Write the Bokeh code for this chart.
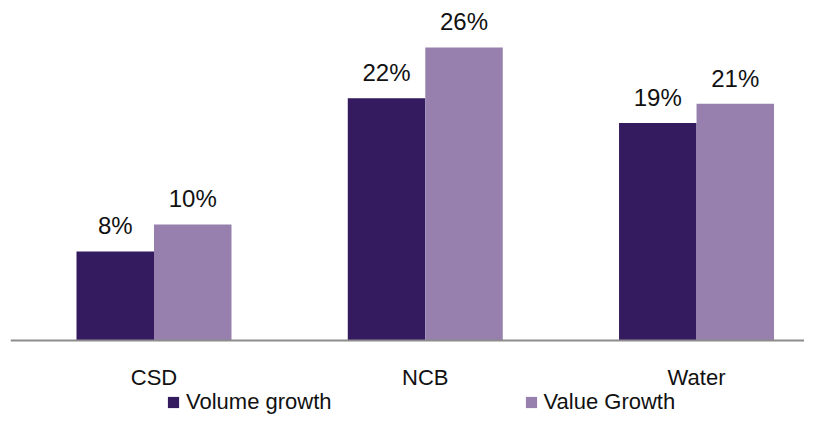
from bokeh.plotting import figure
from bokeh.models import (Range1d, ColumnDataSource, FixedTicker, LabelSet,
                          Legend, LegendItem)
from bokeh.core.properties import value
from bokeh.transform import dodge
from bokeh.embed import file_html
from bokeh.resources import INLINE

# ---- data ----
categories = ["CSD", "NCB", "Water"]
volume_growth = [7.9, 21.5, 19.3]
value_growth = [10.3, 26.0, 21.0]
volume_labels = ["8%", "22%", "19%"]
value_labels = ["10%", "26%", "21%"]
series_names = ["Volume growth", "Value Growth"]

VOL_COLOR = "#341B5F"
VAL_COLOR = "#9880AE"
FONT = "Liberation Sans"

idx = list(range(len(categories)))
src = ColumnDataSource(dict(
    x=idx, vol=volume_growth, val=value_growth,
    vol_lab=volume_labels, val_lab=value_labels,
))

p = figure(frame_width=794, frame_height=415,
           min_border_left=10, min_border_right=0, min_border_top=0,
           min_border_bottom=0,
           x_range=Range1d(-0.529, 2.398), y_range=Range1d(-6.655, 30.17),
           output_backend="svg", toolbar_location=None,
           y_axis_location=None)
p.outline_line_color = None
p.xgrid.visible = False
p.ygrid.visible = False
p.background_fill_color = "white"
p.border_fill_color = "white"

bw = 0.2857
off = bw / 2
r1 = p.vbar(x=dodge("x", -off, range=p.x_range), top="vol", width=bw,
            bottom=0, source=src, fill_color=VOL_COLOR, line_color=None)
r2 = p.vbar(x=dodge("x", off, range=p.x_range), top="val", width=bw,
            bottom=0, source=src, fill_color=VAL_COLOR, line_color=None)

for col, lab, sign in (("vol", "vol_lab", -1), ("val", "val_lab", 1)):
    ls = LabelSet(x=dodge("x", sign * off, range=p.x_range), y=col, text=lab,
                  source=src, text_align="center", text_baseline="alphabetic",
                  y_offset=17, text_font=value(FONT),
                  text_font_size=value("24px"), text_color=value("#111111"))
    p.add_layout(ls)

ax = p.xaxis[0]
ax.fixed_location = 0
ax.ticker = FixedTicker(ticks=idx)
ax.major_label_overrides = {i: c for i, c in zip(idx, categories)}
ax.major_tick_line_color = None
ax.minor_tick_line_color = None
ax.major_tick_out = 0
ax.major_tick_in = 0
ax.axis_line_color = "#8c8c8c"
ax.axis_line_width = 2
ax.major_label_standoff = 24
ax.major_label_text_font = FONT
ax.major_label_text_font_size = "22px"
ax.major_label_text_color = "#111111"

legend = Legend(items=[LegendItem(label=series_names[0], renderers=[r1]),
                       LegendItem(label=series_names[1], renderers=[r2])],
                orientation="horizontal", glyph_width=14, glyph_height=14,
                label_standoff=6, spacing=192, padding=0, margin=0,
                border_line_color=None, background_fill_alpha=0,
                label_text_font=FONT, label_text_font_size="22px",
                label_text_color="#111111", location=(156, 0))
p.add_layout(legend, "center")

open("out.html", "w").write(file_html(p, INLINE))
